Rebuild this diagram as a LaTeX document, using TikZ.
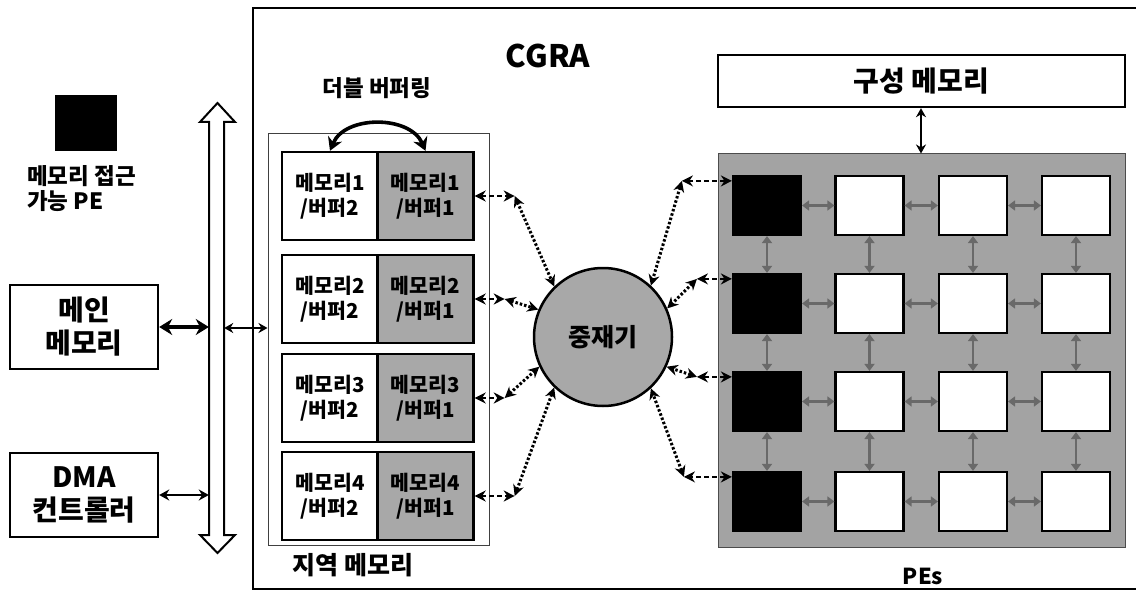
\documentclass[tikz,border=0pt]{standalone}
\usepackage{fontspec}
\setmainfont{Noto Sans CJK KR}
\usetikzlibrary{arrows.meta}
\definecolor{cellgray}{RGB}{168,168,168}
\definecolor{gridgray}{RGB}{163,163,163}
\definecolor{linkgray}{RGB}{105,105,105}
\begin{document}
\begin{tikzpicture}[x=1pt,y=-1pt,
  bigbox/.style={draw,line width=2.4pt,fill=white,minimum width=148pt,minimum height=84pt,inner sep=0pt,align=center,font=\bfseries\fontsize{28}{33}\selectfont},
  cellw/.style={draw,line width=2.4pt,fill=white,minimum width=96pt,minimum height=88pt,inner sep=0pt,align=center,font=\bfseries\fontsize{20.5}{25}\selectfont},
  cellg/.style={cellw,fill=cellgray},
  pebox/.style={draw,line width=2.2pt,fill=white,minimum width=68pt,minimum height=59pt,inner sep=0pt},
  bpebox/.style={pebox,fill=black},
  garrow/.style={draw=linkgray,line width=2.8pt,{Triangle[length=7pt,width=10pt]}-{Triangle[length=7pt,width=10pt]}},
  dashlink/.style={line width=2.6pt,dash pattern=on 5pt off 3pt,{Stealth[length=11pt,width=11pt]}-{Stealth[length=11pt,width=11pt]}},
  dotlink/.style={line width=3pt,dash pattern=on 2.5pt off 2pt,{Stealth[length=11pt,width=11pt]}-{Stealth[length=11pt,width=11pt]}},
  lbl/.style={font=\bfseries\fontsize{#1}{#1}\selectfont,inner sep=0pt}
]
\useasboundingbox (0,0) rectangle (1136,591);

% CGRA outer box
\draw[line width=2pt] (1145,8) -- (253,8) -- (253,589) -- (1145,589);
\node[lbl=31] (cgra) at (548,56) {CGRA};

% legend
\node[fill=black,minimum width=62pt,minimum height=56pt,inner sep=0pt] (legpe) at (86,123) {};
\node[align=left,anchor=west,font=\bfseries\fontsize{22.5}{25}\selectfont,inner sep=0pt] (legtxt) at (27,189) {메모리 접근\\가능 PE};

% system bus (hollow double arrow)
\draw[line width=2pt,fill=white] (209,122) -- (200,122) -- (217.5,103) -- (235,122) -- (224,122)
  -- (224,535) -- (235,535) -- (217.5,553) -- (200,535) -- (209,535) -- cycle;
\node[inner sep=0pt,minimum width=15pt,minimum height=413pt] (bus) at (216.5,328.5) {};

% main memory and DMA
\node[bigbox] (mm) at (84,327) {메인\\메모리};
\node[bigbox] (dma) at (84,495) {DMA\\컨트롤러};
\draw[line width=4pt,{Stealth[length=13pt,width=16pt]}-{Stealth[length=13pt,width=16pt]}] (mm.east) -- (bus.west |- mm.east);
\draw[line width=2.6pt,{Stealth[length=10pt,width=11pt]}-{Stealth[length=10pt,width=11pt]}] (dma.east) -- (bus.west |- dma.east);

% local memory
\node[draw=black!75,line width=1pt,minimum width=221pt,minimum height=411pt,inner sep=0pt] (lm) at (378.5,339.5) {};
\draw[line width=2.4pt,{Stealth[length=9pt,width=10pt]}-{Stealth[length=9pt,width=10pt]}] (bus.east |- 0,328) -- (lm.west |- 0,328);
\node[lbl=22.5] (dbl) at (377,88) {더블 버퍼링};
\node[lbl=25] (lmlbl) at (353,565) {지역 메모리};

\foreach \i/\y in {1/196,2/299,3/398,4/496} {
  \node[cellw] (ma\i) at (330,\y) {메모리\i\\/버퍼2};
  \node[cellg] (mb\i) at (425.5,\y) {메모리\i\\/버퍼1};
}
\draw[line width=3.6pt,{Stealth[length=13pt,width=15pt]}-{Stealth[length=13pt,width=15pt]}] (ma1.north) .. controls (345,115) and (410,115) .. (mb1.north);

% arbiter
\node[circle,draw,line width=2.5pt,fill=cellgray,minimum size=138pt,inner sep=0pt,font=\fontsize{25}{25}\selectfont\bfseries] (arb) at (603,337) {중재기};

% configuration memory and PE array
\node[draw,line width=2.4pt,minimum width=407pt,minimum height=52pt,inner sep=0pt,font=\bfseries\fontsize{28}{28}\selectfont] (cfg) at (921.5,81) {구성 메모리};
\node[draw=black!70,line width=1pt,fill=gridgray,minimum width=407pt,minimum height=393pt,inner sep=0pt] (grid) at (921.5,350.5) {};
\draw[line width=2.4pt,{Stealth[length=9pt,width=10pt]}-{Stealth[length=9pt,width=10pt]}] (cfg.south -| 921,0) -- (grid.north -| 921,0);
\node[lbl=22] (pes) at (923,576) {PEs};

\foreach \r/\y in {1/205.5,2/303.5,3/401.5,4/501.5} {
  \node[bpebox] (p\r1) at (767,\y) {};
  \foreach \c/\x in {2/869.5,3/973,4/1076} {
    \node[pebox] (p\r\c) at (\x,\y) {};
  }
}
\foreach \r in {1,2,3,4} {
  \foreach \c/\n in {1/2,2/3,3/4} {
    \draw[garrow] (p\r\c) -- (p\r\n);
  }
}
\foreach \c in {1,2,3,4} {
  \foreach \r/\n in {1/2,2/3,3/4} {
    \draw[garrow] (p\r\c) -- (p\n\c);
  }
}

% links local memory -> arbiter
\foreach \i/\ang/\dx in {1/134/40,2/157/30,3/205/30,4/226/40} {
  \coordinate (lc\i) at ([xshift=\dx pt]mb\i.east);
  \draw[dashlink] (mb\i.east) -- (lc\i);
  \draw[dotlink] (lc\i) -- (arb.\ang);
}
% links arbiter -> memory-access PEs
\foreach \i/\ang/\dx in {1/47/50,2/24/35,3/-25/35,4/-47/48} {
  \coordinate (rs\i) at ([yshift=-6pt]p\i1.north west);
  \coordinate (rc\i) at ([xshift=-\dx pt]rs\i);
  \draw[dashlink] (rs\i) -- (rc\i);
  \draw[dotlink] (rc\i) -- (arb.\ang);
}
\end{tikzpicture}
\end{document}
